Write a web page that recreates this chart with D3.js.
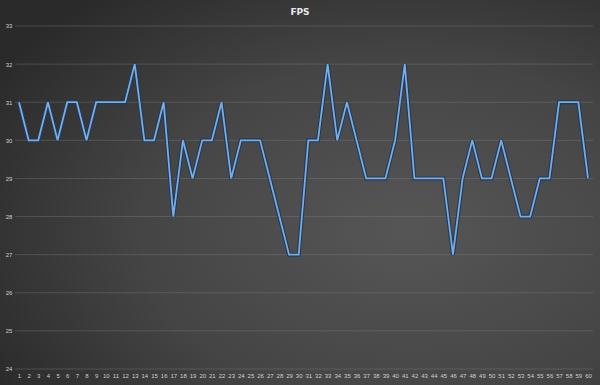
<!DOCTYPE html>
<html lang="en">
<head>
<meta charset="UTF-8">
<title>FPS</title>
<script src="https://d3js.org/d3.v7.min.js"></script>
<style>
    body{ margin:0; background:#333; }
    svg{ display:block; font-family:"DejaVu Sans", sans-serif; }
    .title{ fill:#e8e8e8; font-size:9px; font-weight:bold; text-anchor:middle; }
    .tick text{ fill:#cfcfcf; font-size:6px; }
</style>
</head>
<body>
<svg id="chart" width="600" height="385"></svg>
<script>
    // frame index on x axis
    let frames = d3.range(1, 61)
    // fps values
    let fps = [31,30,30,31,30,31,31,30,31,31,
               31,31,32,30,30,31,28,30,29,30,
               30,31,29,30,30,30,29,28,27,27,
               30,30,32,30,31,30,29,29,29,30,
               32,29,29,29,29,27,29,30,29,29,
               30,29,28,28,29,29,31,31,31,29]
    let yTicks = [24,25,26,27,28,29,30,31,32,33]

    let svg = d3.select("#chart")
    let W = 600, H = 385

    // background
    let defs = svg.append("defs")
    let grad = defs.append("radialGradient")
        .attr("id", "bg")
        .attr("cx", "68%").attr("cy", "60%").attr("r", "80%")
    grad.append("stop").attr("offset", "0%").attr("stop-color", "#565656")
    grad.append("stop").attr("offset", "55%").attr("stop-color", "#454545")
    grad.append("stop").attr("offset", "100%").attr("stop-color", "#2a2a2a")
    svg.append("rect").attr("width", W).attr("height", H).attr("fill", "url(#bg)")

    let x = d3.scaleLinear().domain([1, 60]).range([19, 588])
    let y = d3.scaleLinear().domain([24, 33]).range([369, 26])

    // grid
    svg.append("g").selectAll("line")
        .data(yTicks)
        .enter()
        .append("line")
        .attr("x1", 15).attr("x2", 593)
        .attr("y1", d => y(d)).attr("y2", d => y(d))
        .attr("stroke", "#888")
        .attr("stroke-opacity", 0.35)
        .attr("stroke-width", 1)

    // y axis labels
    let yAxis = svg.append("g")
        .attr("transform", "translate(12,0)")
        .call(d3.axisLeft(y).tickValues(yTicks).tickSize(0).tickPadding(0))
    yAxis.select(".domain").remove()
    yAxis.selectAll("text").attr("text-anchor", "middle").attr("dx", "-3").attr("dy", "0.32em")

    // x axis labels
    let xAxis = svg.append("g")
        .attr("transform", "translate(0,374)")
        .call(d3.axisBottom(x).tickValues(frames).tickSize(0).tickPadding(0).tickFormat(d3.format("d")))
    xAxis.select(".domain").remove()

    // title
    svg.append("text").attr("class", "title").attr("x", 300).attr("y", 15).text("FPS")

    let line = d3.line()
        .x((d, i) => x(frames[i]))
        .y(d => y(d))

    // dark outline under the line
    svg.append("path")
        .datum(fps)
        .attr("d", line)
        .attr("fill", "none")
        .attr("stroke", "#22395a")
        .attr("stroke-width", 4)
        .attr("stroke-linejoin", "miter")
    svg.append("path")
        .datum(fps)
        .attr("d", line)
        .attr("fill", "none")
        .attr("stroke", "#78ade2")
        .attr("stroke-width", 1.8)
        .attr("stroke-linejoin", "miter")
</script>
</body>
</html>
